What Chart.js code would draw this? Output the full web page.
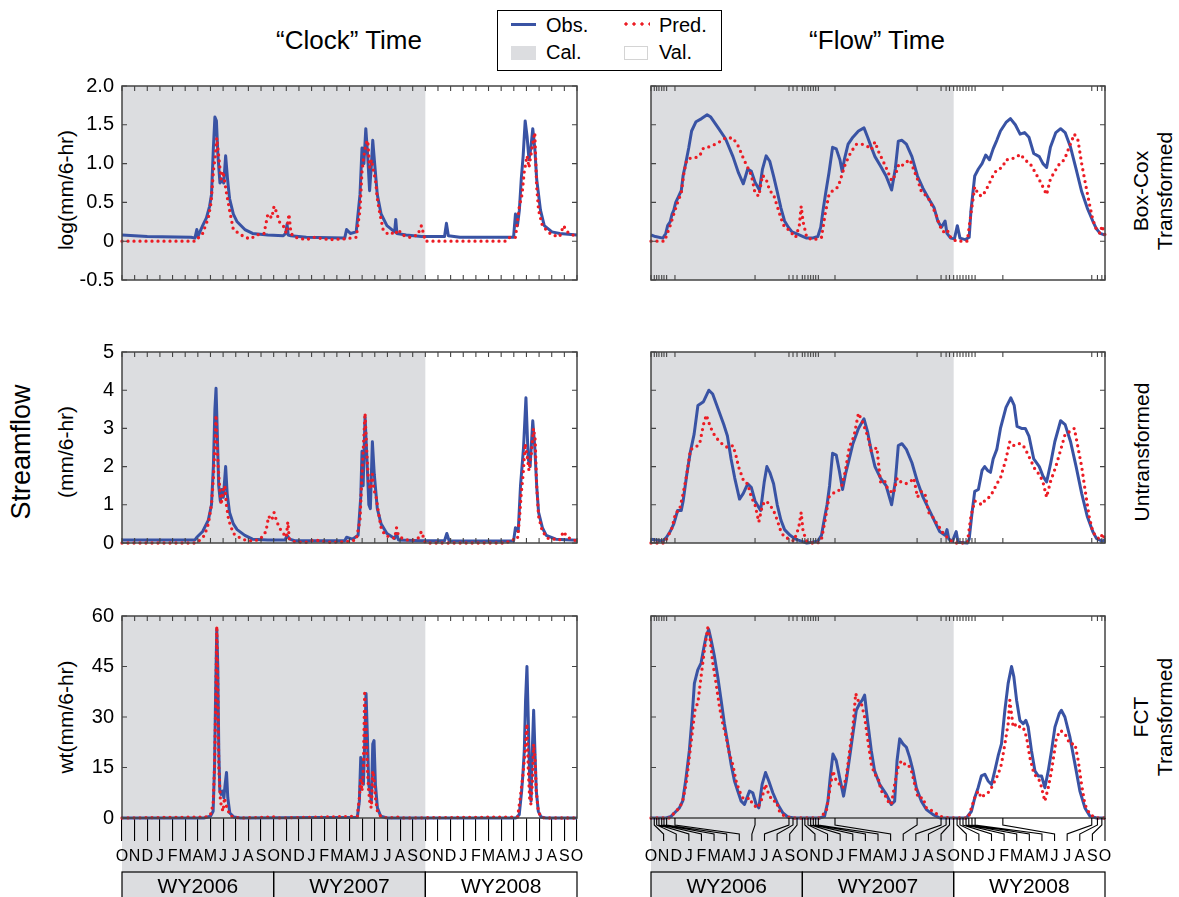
<!DOCTYPE html>
<html><head><meta charset="utf-8">
<script src="https://cdn.jsdelivr.net/npm/chart.js@4.4.1/dist/chart.umd.min.js"></script>
<style>
html,body{margin:0;padding:0;background:#fff;}
body{width:1179px;height:897px;position:relative;overflow:hidden;font-family:'Liberation Sans',Arial,Helvetica,sans-serif;color:#000;}
canvas{position:absolute;}
.t{position:absolute;white-space:nowrap;}
.rot{position:absolute;white-space:nowrap;text-align:center;transform:translate(-50%,-50%) rotate(-90deg);}
</style></head><body>

<div class="t" style="left:249px;width:200px;text-align:center;top:27px;font-size:26px;line-height:26px;">“Clock” Time</div>
<div class="t" style="left:777px;width:200px;text-align:center;top:27px;font-size:26px;line-height:26px;">“Flow” Time</div>

<div style="position:absolute;left:497px;top:10px;width:225px;height:61px;border:1.5px solid #000;box-sizing:border-box;"></div>
<div style="position:absolute;left:511px;top:23px;width:25px;height:3px;background:#3953a4;"></div>
<div class="t" style="left:546px;top:15px;font-size:20px;line-height:20px;">Obs.</div>
<div style="position:absolute;left:622px;top:22px;width:28px;height:4px;background:radial-gradient(circle,#ec1c24 1.4px,transparent 1.9px) 0 0/8px 4px repeat-x;"></div>
<div class="t" style="left:659px;top:15px;font-size:20px;line-height:20px;">Pred.</div>
<div style="position:absolute;left:511px;top:46px;width:25px;height:14px;background:#dcdde0;"></div>
<div class="t" style="left:546px;top:42px;font-size:20px;line-height:20px;">Cal.</div>
<div style="position:absolute;left:624px;top:46px;width:24px;height:14px;background:#fff;border:1px solid #d4d4d4;box-sizing:border-box;"></div>
<div class="t" style="left:659px;top:42px;font-size:20px;line-height:20px;">Val.</div>

<div class="rot" style="left:66px;top:190px;font-size:21px;line-height:24px;">log(mm/6-hr)</div>
<div class="rot" style="left:21px;top:452px;font-size:27px;line-height:30px;">Streamflow</div>
<div class="rot" style="left:66px;top:452px;font-size:21px;line-height:24px;">(mm/6-hr)</div>
<div class="rot" style="left:66px;top:717px;font-size:21px;line-height:24px;">wt(mm/6-hr)</div>

<div class="rot" style="left:1153px;top:191px;font-size:21px;line-height:24px;">Box-Cox<br>Transformed</div>
<div class="rot" style="left:1142px;top:452px;font-size:21px;line-height:24px;">Untransformed</div>
<div class="rot" style="left:1153px;top:717px;font-size:21px;line-height:24px;">FCT<br>Transformed</div>

<script>
// ---------------- DATA ----------------
const MONTH_LABELS = 'ONDJFMAMJJASONDJFMAMJJASONDJFMAMJJASO'.split('');
const WATER_YEARS = ['WY2006', 'WY2007', 'WY2008'];
const CAL_RANGE = [0, 24];
// month boundaries positioned on the "flow time" axis
const FLOW_MONTH_POS = [0,0.26,0.45,0.63,0.85,1.03,1.24,1.9,8.25,10.94,11.26,11.58,12,
  12.2,12.45,12.66,12.87,13.06,13.27,14.59,21.1,23.0,23.4,23.67,24,
  24.27,24.5,24.74,24.98,25.2,25.45,25.7,27.9,34.95,35.4,35.75,36];

const Y_LOG = [-0.5, 2.0, 0.5];
const Y_RAW = [0, 5, 1];
const Y_FCT = [0, 60, 15];

// Clock time, Box-Cox (log) transformed
const clockLogObs = [[0,0.08],[2,0.06],[5.47,0.05],[5.77,0.04],[5.92,0.15],[6.0,0.06],[6.38,0.2],[6.68,0.3],[6.93,0.45],[7.08,0.6],[7.23,1.2],[7.35,1.6],[7.47,1.55],[7.59,1.1],[7.75,0.75],[7.90,0.8],[8.05,0.75],[8.20,1.1],[8.35,0.8],[8.51,0.55],[8.81,0.35],[9.11,0.25],[9.72,0.15],[10.33,0.1],[11.54,0.08],[12.76,0.07],[12.95,0.1],[13.06,0.22],[13.15,0.08],[13.37,0.07],[14.58,0.05],[17.62,0.04],[17.77,0.15],[18.07,0.1],[18.53,0.12],[18.83,0.6],[18.99,1.2],[19.14,1.0],[19.29,1.45],[19.44,1.1],[19.59,0.65],[19.74,1.0],[19.84,1.3],[19.99,1.0],[20.20,0.6],[20.50,0.35],[20.96,0.2],[21.57,0.12],[21.66,0.28],[21.75,0.1],[22.48,0.08],[23.69,0.06],[25.52,0.06],[25.67,0.23],[25.82,0.07],[26.73,0.05],[30.98,0.05],[31.13,0.35],[31.29,0.2],[31.44,0.4],[31.59,0.8],[31.74,1.1],[31.90,1.55],[32.05,1.35],[32.20,1.05],[32.35,1.2],[32.50,1.45],[32.66,1.2],[32.81,0.8],[33.11,0.4],[33.41,0.2],[34.02,0.12],[34.63,0.1],[36,0.08]];
const clockLogPred = [[0,0],[5.8,0],[6.08,0.05],[6.38,0.1],[6.83,0.3],[7.05,0.5],[7.23,0.9],[7.38,1.1],[7.50,1.33],[7.65,1.1],[7.84,0.8],[7.99,0.9],[8.14,0.75],[8.29,0.6],[8.51,0.4],[8.81,0.15],[9.26,0.1],[9.72,0.05],[10.18,0.03],[10.63,0.08],[11.24,0.1],[11.54,0.35],[11.85,0.3],[12.03,0.45],[12.21,0.38],[12.45,0.25],[12.76,0.2],[13.00,0.1],[13.21,0.35],[13.37,0.1],[13.67,0.05],[14.58,0.02],[15.19,0.05],[16.40,0.02],[17.62,0.03],[18.53,0.05],[18.83,0.4],[18.99,0.9],[19.14,1.1],[19.29,1.25],[19.44,1.3],[19.59,0.95],[19.74,1.05],[19.90,0.9],[20.05,0.8],[20.20,0.55],[20.35,0.4],[20.66,0.15],[20.96,0.1],[21.26,0.12],[21.57,0.08],[21.87,0.15],[22.17,0.08],[22.78,0.05],[23.39,0.08],[23.69,0.2],[23.85,0.1],[24.0,0],[30.38,0],[30.68,0.05],[31.13,0.05],[31.44,0.45],[31.65,0.6],[31.83,0.9],[32.05,1.1],[32.20,0.95],[32.44,1.2],[32.66,1.4],[32.81,0.7],[32.96,0.4],[33.26,0.2],[33.72,0.12],[34.02,0.08],[34.63,0.06],[34.93,0.2],[35.24,0.12],[36,0.05]];

// Clock time, untransformed
const clockRawObs = [[0,0.08],[5.77,0.08],[5.92,0.15],[6.38,0.3],[6.83,0.6],[7.08,1.0],[7.23,2.0],[7.35,3.5],[7.44,4.05],[7.53,3.0],[7.65,1.5],[7.78,1.1],[7.90,1.4],[8.02,1.2],[8.20,2.0],[8.32,1.3],[8.51,0.8],[8.81,0.5],[9.11,0.35],[9.72,0.2],[10.33,0.1],[11.54,0.08],[12.91,0.08],[13.06,0.2],[13.27,0.1],[13.67,0.06],[17.62,0.06],[17.77,0.15],[18.23,0.1],[18.68,0.2],[18.89,1.2],[18.99,2.4],[19.08,1.5],[19.23,3.3],[19.38,2.2],[19.53,1.0],[19.65,0.9],[19.81,2.65],[19.96,1.8],[20.20,0.9],[20.50,0.5],[20.96,0.25],[21.57,0.12],[21.72,0.25],[21.87,0.08],[23.69,0.06],[25.52,0.06],[25.70,0.25],[25.88,0.06],[30.98,0.05],[31.13,0.4],[31.35,0.3],[31.53,1.5],[31.65,2.0],[31.77,2.5],[31.96,3.8],[32.14,2.2],[32.29,2.0],[32.50,3.2],[32.66,2.5],[32.81,1.5],[32.96,0.8],[33.26,0.4],[33.57,0.2],[34.33,0.1],[36,0.07]];
const clockRawPred = [[0,0],[5.77,0],[6.08,0.05],[6.53,0.2],[6.83,0.5],[7.08,1.0],[7.23,1.7],[7.35,2.5],[7.44,3.35],[7.53,2.5],[7.65,1.8],[7.84,1.0],[8.02,1.4],[8.14,1.5],[8.26,1.0],[8.44,0.6],[8.81,0.25],[9.26,0.15],[9.72,0.08],[10.33,0.05],[10.94,0.1],[11.39,0.3],[11.60,0.7],[11.85,0.6],[12.03,0.8],[12.21,0.6],[12.45,0.4],[12.76,0.25],[13.00,0.15],[13.12,0.55],[13.24,0.1],[13.67,0.03],[14.58,0.02],[15.19,0.08],[16.40,0.02],[17.62,0.03],[18.53,0.08],[18.83,0.6],[18.99,1.8],[19.14,2.8],[19.23,3.4],[19.35,2.5],[19.50,1.6],[19.65,1.4],[19.81,1.8],[19.93,1.4],[20.11,1.2],[20.29,0.8],[20.50,0.4],[20.81,0.2],[21.26,0.15],[21.57,0.12],[21.72,0.4],[21.87,0.2],[22.17,0.12],[22.78,0.06],[23.39,0.1],[23.69,0.3],[23.85,0.15],[24.0,0],[30.38,0],[30.83,0.08],[31.29,0.1],[31.44,0.6],[31.59,1.3],[31.74,1.8],[31.90,2.6],[32.05,2.3],[32.20,1.9],[32.38,2.3],[32.56,3.0],[32.69,2.7],[32.81,1.5],[32.96,0.7],[33.26,0.3],[33.72,0.12],[34.63,0.08],[34.93,0.3],[35.24,0.15],[36,0.05]];

// Clock time, FCT transformed
const clockFctObs = [[0,0],[6.47,0],[7.00,0.5],[7.21,2],[7.32,15],[7.42,40],[7.50,56],[7.58,45],[7.66,20],[7.74,8],[7.84,7],[7.95,8],[8.06,6],[8.16,10],[8.27,13.5],[8.37,6],[8.53,1.5],[8.85,0.3],[9.38,0],[18.62,0.2],[18.78,5],[18.89,18],[18.99,15],[19.10,10],[19.20,22],[19.31,37],[19.41,25],[19.52,10],[19.62,8],[19.73,5],[19.84,22],[19.94,23],[20.05,10],[20.21,3],[20.47,0.5],[21.00,0],[31.17,0],[31.43,1],[31.62,8],[31.72,13],[31.83,20],[31.93,35],[32.04,45],[32.14,30],[32.25,12],[32.36,5],[32.46,20],[32.57,32],[32.67,20],[32.78,8],[32.94,2],[33.15,0.3],[33.54,0],[36,0]];
const clockFctPred = [[0,0],[6.74,0.3],[7.00,1],[7.21,4],[7.32,15],[7.42,35],[7.50,57],[7.58,40],[7.66,15],[7.79,5],[7.90,3],[8.00,2],[8.11,6],[8.21,4],[8.32,3],[8.53,0.8],[8.85,0.2],[9.38,0],[12.02,0.3],[12.28,0],[18.62,0.5],[18.78,6],[18.89,12],[18.99,8],[19.10,15],[19.20,37],[19.31,28],[19.41,15],[19.52,8],[19.62,4],[19.73,3],[19.84,14],[19.94,12],[20.05,6],[20.21,2],[20.47,0.5],[21.00,0],[21.79,0.3],[22.05,0],[31.30,0.3],[31.51,6],[31.70,12],[31.83,17],[31.93,22],[32.04,28],[32.14,15],[32.25,6],[32.36,4],[32.46,10],[32.57,22],[32.67,18],[32.78,8],[32.94,2],[33.15,0.3],[33.41,0],[36,0]];

// Flow time, Box-Cox (log) transformed
const flowLogObs = [[0,0.08],[0.35,0.06],[0.94,0.04],[1.17,0.1],[1.32,0.2],[1.52,0.25],[1.67,0.35],[1.81,0.4],[1.96,0.5],[2.11,0.55],[2.25,0.6],[2.40,0.65],[2.55,0.85],[2.75,1.0],[2.99,1.2],[3.22,1.42],[3.57,1.54],[4.01,1.58],[4.45,1.63],[4.74,1.6],[5.33,1.46],[5.91,1.32],[6.50,1.09],[6.94,0.88],[7.32,0.74],[7.67,0.93],[7.96,0.9],[8.25,0.76],[8.60,0.66],[8.84,0.93],[9.13,1.1],[9.42,1.03],[9.72,0.84],[10.01,0.64],[10.30,0.43],[10.59,0.26],[10.89,0.18],[11.18,0.12],[11.62,0.09],[12.06,0.06],[12.35,0.04],[12.79,0.04],[13.23,0.06],[13.46,0.18],[13.67,0.43],[13.87,0.64],[14.11,0.88],[14.40,1.21],[14.69,1.19],[14.98,1.05],[15.16,0.9],[15.33,1.05],[15.63,1.25],[16.01,1.34],[16.45,1.42],[16.89,1.46],[17.18,1.34],[17.47,1.21],[17.76,1.09],[18.20,0.97],[18.64,0.84],[19.08,0.66],[19.37,0.93],[19.61,1.29],[19.90,1.3],[20.25,1.25],[20.69,1.09],[21.13,0.84],[21.57,0.68],[22.01,0.55],[22.45,0.43],[22.74,0.26],[23.03,0.18],[23.32,0.26],[23.47,0.1],[23.76,0.04],[24.06,0.03],[24.29,0.2],[24.50,0.04],[24.93,0.02],[25.23,0.05],[25.37,0.39],[25.67,0.84],[25.96,0.93],[26.25,1.0],[26.54,1.11],[26.84,1.05],[27.13,1.19],[27.42,1.3],[27.71,1.42],[28.15,1.53],[28.50,1.58],[28.89,1.5],[29.27,1.38],[29.62,1.4],[29.97,1.34],[30.35,1.13],[30.79,1.09],[31.08,1.0],[31.37,0.95],[31.67,1.21],[32.10,1.4],[32.48,1.45],[32.84,1.4],[33.27,1.21],[33.71,0.93],[34.15,0.64],[34.59,0.43],[35.03,0.26],[35.32,0.16],[35.61,0.1],[36,0.08]];
const flowLogPred = [[0,0],[1.08,0],[1.29,0.1],[1.52,0.2],[1.81,0.35],[2.11,0.5],[2.40,0.62],[2.63,0.9],[2.84,1.05],[3.13,1.07],[3.57,1.08],[3.86,1.1],[4.16,1.2],[4.74,1.22],[5.33,1.27],[5.91,1.33],[6.50,1.33],[6.94,1.22],[7.37,1.05],[7.67,0.95],[7.96,0.85],[8.25,0.62],[8.55,0.58],[8.84,0.85],[9.13,0.8],[9.42,0.65],[9.72,0.6],[10.01,0.45],[10.30,0.3],[10.59,0.18],[10.89,0.15],[11.18,0.1],[11.47,0.05],[11.76,0.2],[11.91,0.45],[12.06,0.25],[12.35,0.05],[12.79,0.02],[13.23,0.03],[13.52,0.05],[13.81,0.35],[14.11,0.6],[14.40,0.65],[14.84,0.7],[15.13,0.85],[15.42,1.0],[15.86,1.15],[16.30,1.25],[16.74,1.25],[17.18,1.22],[17.47,1.18],[17.76,1.28],[18.06,1.15],[18.35,1.05],[18.64,0.95],[19.08,0.78],[19.37,0.85],[19.67,1.0],[19.96,0.98],[20.25,1.02],[20.54,1.05],[20.84,0.92],[21.13,0.8],[21.42,0.65],[21.72,0.6],[22.01,0.55],[22.30,0.45],[22.59,0.35],[22.89,0.2],[23.18,0.12],[23.47,0.15],[23.76,0.05],[24.20,0],[25.08,0],[25.37,0.35],[25.67,0.7],[25.96,0.6],[26.25,0.58],[26.54,0.65],[26.84,0.75],[27.13,0.85],[27.42,0.92],[27.86,0.95],[28.15,1.05],[28.45,1.05],[28.89,1.08],[29.32,1.12],[29.62,1.05],[30.06,1.0],[30.49,0.88],[30.93,0.75],[31.37,0.6],[31.67,0.8],[32.02,0.9],[32.40,1.0],[32.78,1.05],[33.13,1.2],[33.57,1.38],[33.86,1.3],[34.15,1.0],[34.44,0.75],[34.74,0.5],[35.03,0.28],[35.32,0.15],[35.61,0.1],[35.76,0.2],[36,0.08]];

// Flow time, untransformed
const flowRawObs = [[0,0.1],[0.94,0.05],[1.23,0.15],[1.52,0.3],[1.81,0.5],[2.11,0.85],[2.40,0.85],[2.55,1.1],[2.84,1.8],[3.13,2.4],[3.42,2.85],[3.72,3.6],[4.16,3.7],[4.59,4.0],[4.89,3.9],[5.33,3.5],[5.77,3.1],[6.06,2.8],[6.35,2.2],[6.64,1.7],[7.02,1.15],[7.32,1.3],[7.67,1.55],[7.96,1.45],[8.25,1.1],[8.69,0.85],[8.98,1.6],[9.19,2.0],[9.42,1.85],[9.72,1.55],[10.01,1.0],[10.30,0.6],[10.59,0.35],[11.03,0.2],[11.47,0.1],[11.91,0.05],[12.35,0],[12.79,0.02],[13.23,0.05],[13.52,0.2],[13.73,0.6],[13.96,1.0],[14.16,1.5],[14.40,2.35],[14.69,2.3],[14.93,1.9],[15.19,1.4],[15.42,1.8],[15.72,2.2],[16.01,2.6],[16.45,3.0],[16.89,3.25],[17.18,2.9],[17.47,2.4],[17.76,2.0],[18.20,1.7],[18.64,1.5],[19.08,1.0],[19.37,1.6],[19.61,2.55],[19.90,2.6],[20.25,2.45],[20.69,2.1],[21.13,1.6],[21.57,1.2],[22.01,0.9],[22.45,0.6],[22.89,0.3],[23.32,0.2],[23.47,0.35],[23.62,0.1],[23.91,0.05],[24.20,0.3],[24.35,0.02],[25.08,0],[25.23,0.1],[25.46,0.8],[25.67,1.35],[25.96,1.4],[26.25,1.9],[26.46,2.0],[26.69,1.9],[26.92,1.85],[27.13,2.2],[27.42,2.45],[27.71,3.0],[28.15,3.55],[28.53,3.8],[28.80,3.6],[29.03,3.05],[29.38,3.0],[29.68,3.0],[29.97,2.8],[30.35,2.2],[30.79,2.0],[31.08,1.75],[31.37,1.6],[31.67,2.05],[32.02,2.65],[32.48,3.2],[32.84,3.1],[33.27,2.65],[33.71,2.0],[34.15,1.3],[34.59,0.7],[35.03,0.3],[35.32,0.12],[35.76,0.05],[36,0.08]];
const flowRawPred = [[0,0],[1.08,0],[1.38,0.2],[1.67,0.4],[1.96,0.8],[2.25,0.85],[2.55,1.3],[2.84,1.8],[3.13,2.45],[3.51,2.5],[3.86,2.6],[4.16,3.1],[4.39,3.35],[4.59,3.15],[4.89,2.9],[5.18,2.75],[5.62,2.6],[6.06,2.5],[6.50,2.55],[6.73,2.3],[6.94,2.0],[7.37,1.6],[7.67,1.55],[7.96,1.2],[8.25,1.0],[8.55,0.55],[8.84,1.0],[9.13,1.1],[9.42,1.0],[9.72,0.85],[10.01,0.6],[10.30,0.3],[10.59,0.15],[11.03,0.1],[11.33,0.05],[11.71,0.4],[11.91,0.8],[12.06,0.3],[12.35,0.05],[12.79,0],[13.23,0],[13.52,0.1],[13.81,0.6],[14.11,1.2],[14.40,1.3],[14.84,1.35],[15.13,1.5],[15.42,1.9],[15.72,2.5],[16.10,2.8],[16.45,3.4],[16.80,3.15],[17.18,2.8],[17.47,2.4],[17.91,2.5],[18.20,1.6],[18.50,1.65],[18.79,1.4],[19.23,1.3],[19.52,1.7],[19.81,1.6],[20.19,1.55],[20.54,1.6],[20.84,1.7],[21.13,1.2],[21.42,1.35],[21.72,1.3],[22.01,0.8],[22.30,0.7],[22.59,0.55],[22.89,0.4],[23.18,0.25],[23.62,0.1],[24.06,0],[25.08,0],[25.37,0.7],[25.67,1.1],[25.96,1.05],[26.25,1.0],[26.54,1.15],[26.84,1.2],[27.13,1.35],[27.42,1.55],[27.71,1.7],[28.15,2.2],[28.45,2.65],[28.74,2.55],[29.03,2.6],[29.32,2.6],[29.62,2.5],[30.06,2.2],[30.49,1.9],[30.79,1.8],[31.08,1.6],[31.37,1.2],[31.67,1.6],[32.10,2.0],[32.54,2.5],[32.84,2.85],[33.13,2.9],[33.57,3.0],[33.86,2.5],[34.15,2.0],[34.44,1.35],[34.74,0.7],[35.03,0.3],[35.32,0.15],[35.61,0.1],[35.82,0.25],[36,0.08]];

// Flow time, FCT transformed
const flowFctObs = [[0,0],[1.19,0],[1.59,0.5],[1.99,2],[2.25,3],[2.51,5],[2.78,12],[3.04,20],[3.26,30],[3.44,40],[3.71,44],[3.97,46],[4.16,50],[4.37,54],[4.58,56],[4.76,53],[5.03,48],[5.29,42],[5.56,35],[5.82,28],[6.09,22],[6.35,16],[6.62,11],[6.88,8],[7.15,5],[7.41,4],[7.81,8],[8.07,7.5],[8.34,4],[8.55,3],[8.81,10],[9.08,13.5],[9.34,11],[9.66,7.5],[10.06,4],[10.46,1.5],[10.85,0.3],[11.38,0],[13.37,0],[13.76,0.5],[14.03,5],[14.21,12],[14.43,19],[14.69,17],[14.96,12],[15.27,6.5],[15.48,11],[15.75,18],[16.01,25],[16.28,32],[16.54,34],[16.75,35],[16.94,36.5],[17.20,28],[17.47,20],[17.73,14],[18.13,10],[18.66,7],[19.06,4],[19.32,5],[19.51,17],[19.72,23.5],[19.98,22],[20.25,21],[20.51,18],[20.78,14],[21.04,9],[21.44,5],[21.84,2.5],[22.37,1],[22.90,0],[25.01,0],[25.41,2],[25.67,6],[25.94,9],[26.20,12.5],[26.47,13],[26.73,11],[27.00,10],[27.26,14],[27.53,18.5],[27.79,22],[28.06,32],[28.32,40],[28.59,45],[28.77,42],[28.99,35],[29.25,29],[29.51,28],[29.72,29],[29.91,27],[30.17,20],[30.44,14],[30.70,12.5],[30.97,12.5],[31.23,9],[31.50,14],[31.76,20],[32.03,27],[32.37,31],[32.54,32],[32.82,30],[33.22,24],[33.62,16],[34.01,8],[34.41,3],[34.81,0.5],[35.34,0],[36,0]];
const flowFctPred = [[0,0],[1.46,0],[1.72,1],[2.25,3],[2.51,5],[2.78,10],[3.04,18],[3.26,25],[3.52,33],[3.71,34],[3.97,42],[4.24,50],[4.50,56.5],[4.69,53],[4.90,46],[5.16,40],[5.43,33],[5.69,28],[5.96,24],[6.22,19],[6.48,16],[6.75,11],[7.01,8],[7.28,6],[7.54,5.5],[7.81,6],[8.07,4],[8.47,3],[8.73,5],[9.08,10],[9.34,7],[9.66,5],[9.93,5],[10.19,2],[10.59,0.5],[11.25,0],[13.37,0],[13.90,2],[14.16,8],[14.43,14],[14.69,11],[14.96,10],[15.22,9],[15.48,12],[15.75,20],[16.01,27],[16.23,37],[16.41,35],[16.68,34],[16.94,30],[17.20,23],[17.47,16],[17.73,13],[18.00,12],[18.26,8],[18.53,7],[18.79,5],[19.06,4],[19.32,10],[19.59,15],[19.85,17],[20.12,16],[20.38,16],[20.65,14],[20.91,10],[21.18,6],[21.57,6],[21.84,3],[22.37,2],[22.90,0.5],[23.69,0],[25.15,0],[25.41,3],[25.67,6],[25.94,8],[26.20,6],[26.47,7],[26.73,7.5],[27.00,9],[27.26,11],[27.53,13],[27.79,16],[28.06,22],[28.32,28],[28.45,35],[28.72,27],[28.99,28],[29.25,27],[29.51,27],[29.78,24],[30.04,18],[30.31,14],[30.57,12],[30.84,11],[31.23,5],[31.50,9],[31.76,14],[32.16,24],[32.48,26],[32.82,25],[33.22,22],[33.62,22],[33.88,17],[34.14,10],[34.41,4],[34.81,1],[35.34,0],[36,0]];

// ---------------- STYLE ----------------
const BLUE = '#3953a4', RED = '#ec1c24', CAL_GRAY = '#dcdde0', FRAME = '#444444';
const FONT = "'Liberation Sans', Arial, Helvetica, sans-serif";

const panelPlugin = {
  id: 'panel',
  beforeDraw(chart, args, o) {
    const {ctx, chartArea: a, scales: {x}} = chart;
    const x0 = x.getPixelForValue(CAL_RANGE[0]), x1 = x.getPixelForValue(CAL_RANGE[1]);
    ctx.save();
    ctx.fillStyle = CAL_GRAY;
    ctx.fillRect(x0, a.top, x1 - x0, (o.bottomRow ? chart.height : a.bottom) - a.top);
    ctx.restore();
  },
  afterDatasetsDraw(chart, args, o) {
    const {ctx, chartArea: a, scales: {x, y}} = chart;
    ctx.save();
    ctx.strokeStyle = FRAME;
    ctx.lineWidth = 1.5;
    ctx.strokeRect(a.left, a.top, a.right - a.left, a.bottom - a.top);
    ctx.lineWidth = 1.1;
    ctx.beginPath();
    y.ticks.forEach(t => {
      const py = y.getPixelForValue(t.value);
      ctx.moveTo(a.left, py); ctx.lineTo(a.left + 5, py);
      ctx.moveTo(a.right - 5, py); ctx.lineTo(a.right, py);
    });
    const tops = o.flow ? FLOW_MONTH_POS : MONTH_LABELS.map((_, i) => i);
    tops.forEach(v => {
      const px = x.getPixelForValue(v);
      ctx.moveTo(px, a.top); ctx.lineTo(px, a.top + 5);
      if (!o.bottomRow) { ctx.moveTo(px, a.bottom); ctx.lineTo(px, a.bottom - 5); }
    });
    ctx.stroke();
    if (o.bottomRow && o.flow) {
      ctx.strokeStyle = '#000';
      ctx.lineWidth = 1.1;
      ctx.beginPath();
      FLOW_MONTH_POS.forEach((v, i) => {
        const p1 = x.getPixelForValue(v), p2 = x.getPixelForValue(i);
        ctx.moveTo(p1, a.bottom); ctx.lineTo(p1, a.bottom + 7);
        ctx.lineTo(p2, a.bottom + 16); ctx.lineTo(p2, a.bottom + 23);
      });
      ctx.stroke();
    }
    if (o.bottomRow) {
      const boxTop = 872 - o.canvasTop;
      ctx.strokeStyle = '#000';
      ctx.lineWidth = 1.2;
      ctx.fillStyle = '#000';
      ctx.font = '21px ' + FONT;
      ctx.textAlign = 'center';
      ctx.textBaseline = 'alphabetic';
      WATER_YEARS.forEach((wy, k) => {
        const l = x.getPixelForValue(k * 12), r = x.getPixelForValue((k + 1) * 12);
        ctx.strokeRect(l, boxTop, r - l, chart.height - boxTop + 4);
        ctx.fillText(wy, (l + r) / 2, boxTop + 21);
      });
    }
    ctx.restore();
  }
};

function makePanel(cfg) {
  const cv = document.createElement('canvas');
  cv.width = cfg.w; cv.height = cfg.h;
  cv.style.left = cfg.left + 'px'; cv.style.top = cfg.top + 'px';
  cv.style.width = cfg.w + 'px'; cv.style.height = cfg.h + 'px';
  document.body.appendChild(cv);
  const area = cfg.area;
  const yr = cfg.yRange;
  const bottomH = cfg.top + cfg.h - area.b;
  new Chart(cv.getContext('2d'), {
    type: 'line',
    data: {
      datasets: [
        { label: 'Pred.', data: cfg.pred, borderColor: RED, borderWidth: 3.3, borderDash: [0, 6], borderCapStyle: 'round',
          pointRadius: 0, tension: 0, fill: false, order: 0, clip: 6 },
        { label: 'Obs.', data: cfg.obs, borderColor: BLUE, borderWidth: 3, borderJoinStyle: 'round',
          pointRadius: 0, tension: 0, fill: false, order: 1, clip: 6 }
      ]
    },
    options: {
      responsive: false, animation: false, devicePixelRatio: 1, events: [],
      layout: { padding: { left: 0, top: area.t - cfg.top, right: cfg.left + cfg.w - area.r, bottom: cfg.bottomRow ? 0 : bottomH } },
      plugins: { legend: { display: false }, tooltip: { enabled: false },
        panel: { bottomRow: cfg.bottomRow, flow: cfg.flow, canvasTop: cfg.top } },
      scales: {
        x: {
          type: 'linear', min: 0, max: 36, display: cfg.bottomRow,
          ticks: { stepSize: 1, maxTicksLimit: 100, autoSkip: false, maxRotation: 0, minRotation: 0,
            padding: 6, color: '#000', font: { family: FONT, size: 16 },
            callback: v => MONTH_LABELS[Math.round(v)] },
          grid: { drawOnChartArea: false, drawTicks: true, tickLength: 23,
            color: cfg.flow ? 'rgba(0,0,0,0)' : '#000', lineWidth: 1.1 },
          border: { display: false },
          afterFit: s => { s.height = bottomH; s.paddingLeft = 0; s.paddingRight = 0; }
        },
        y: {
          type: 'linear', min: yr[0], max: yr[1],
          ticks: { stepSize: yr[2], maxTicksLimit: 100, display: !cfg.flow, padding: 8, color: '#000',
            font: { family: FONT, size: 20 },
            callback: v => (yr[2] < 1 ? (Math.abs(v) < 1e-9 ? '0' : v.toFixed(1)) : String(v)) },
          grid: { drawOnChartArea: false, drawTicks: false, color: 'rgba(0,0,0,0)' },
          border: { display: false },
          afterFit: s => { s.width = area.l - cfg.left; s.paddingTop = 0; s.paddingBottom = 0; }
        }
      }
    },
    plugins: [panelPlugin]
  });
}

const ROWS = [
  { t: 86, b: 290, yRange: Y_LOG, clock: [clockLogObs, clockLogPred], flowS: [flowLogObs, flowLogPred], bottomRow: false },
  { t: 352, b: 553, yRange: Y_RAW, clock: [clockRawObs, clockRawPred], flowS: [flowRawObs, flowRawPred], bottomRow: false },
  { t: 616, b: 818, yRange: Y_FCT, clock: [clockFctObs, clockFctPred], flowS: [flowFctObs, flowFctPred], bottomRow: true }
];

ROWS.forEach(r => {
  const top = r.t - 10;
  const h = r.bottomRow ? 897 - top : (r.b + 10) - top;
  makePanel({ left: 0, top, w: 600, h, area: { l: 122, r: 577, t: r.t, b: r.b }, yRange: r.yRange,
    obs: r.clock[0], pred: r.clock[1], bottomRow: r.bottomRow, flow: false });
  makePanel({ left: 600, top, w: 579, h, area: { l: 651, r: 1105, t: r.t, b: r.b }, yRange: r.yRange,
    obs: r.flowS[0], pred: r.flowS[1], bottomRow: r.bottomRow, flow: true });
});
</script>
</body></html>
